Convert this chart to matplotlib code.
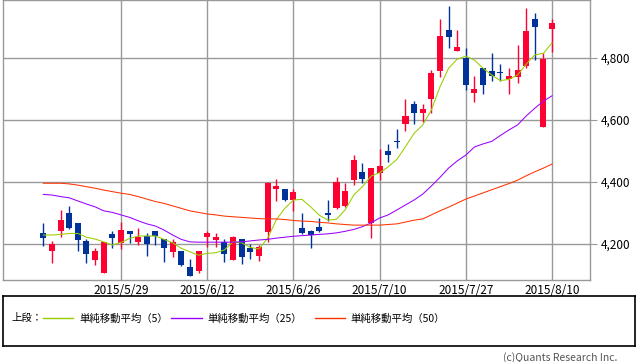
import numpy as np
import matplotlib
matplotlib.use("Agg")
import matplotlib.pyplot as plt

plt.rcParams['font.family'] = ['Noto Sans CJK JP', 'DejaVu Sans']

# daily candles (index 0 = 2015/5/18), red = up, blue = down
opens = [4236, 4178, 4242, 4301, 4267, 4210, 4148, 4107, 4232, 4202,
         4242, 4207, 4226, 4243, 4215, 4175, 4177, 4127, 4114, 4224,
         4213, 4207, 4148, 4216, 4188, 4161, 4240, 4376, 4377, 4342,
         4253, 4242, 4256, 4301, 4315, 4323, 4406, 4433, 4267, 4428,
         4500, 4532, 4586, 4651, 4624, 4668, 4758, 4890, 4824, 4799,
         4688, 4767, 4758, 4753, 4731, 4740, 4775, 4926, 4578, 4894]
highs = [4269, 4210, 4310, 4323, 4267, 4216, 4187, 4208, 4243, 4271,
         4242, 4251, 4234, 4243, 4216, 4215, 4178, 4151, 4178, 4243,
         4237, 4216, 4225, 4216, 4200, 4197, 4399, 4410, 4378, 4377,
         4299, 4245, 4283, 4342, 4417, 4396, 4487, 4462, 4445, 4506,
         4523, 4570, 4668, 4662, 4652, 4761, 4926, 4968, 4890, 4831,
         4742, 4768, 4817, 4781, 4767, 4842, 4962, 4946, 4815, 4926]
lows = [4193, 4140, 4223, 4250, 4178, 4140, 4132, 4105, 4188, 4185,
        4204, 4197, 4161, 4197, 4143, 4159, 4130, 4096, 4107, 4189,
        4189, 4143, 4147, 4134, 4151, 4146, 4207, 4340, 4340, 4307,
        4233, 4188, 4240, 4275, 4314, 4320, 4390, 4396, 4220, 4406,
        4465, 4509, 4566, 4586, 4594, 4624, 4740, 4833, 4823, 4697,
        4659, 4684, 4727, 4727, 4684, 4720, 4769, 4794, 4577, 4820]
closes = [4220, 4200, 4277, 4253, 4213, 4168, 4177, 4205, 4220, 4245,
          4233, 4224, 4199, 4227, 4188, 4207, 4132, 4097, 4177, 4235,
          4224, 4168, 4224, 4159, 4175, 4189, 4398, 4387, 4342, 4367,
          4234, 4229, 4243, 4295, 4401, 4372, 4471, 4409, 4444, 4452,
          4487, 4528, 4613, 4624, 4636, 4751, 4871, 4869, 4835, 4713,
          4700, 4713, 4742, 4751, 4742, 4761, 4887, 4901, 4797, 4912]

sma5 = [4229, 4229, 4231, 4234, 4234, 4222, 4216, 4207, 4197, 4205,
        4218, 4226, 4226, 4226, 4215, 4204, 4186, 4175, 4164, 4170,
        4172, 4181, 4207, 4204, 4189, 4184, 4218, 4277, 4315, 4342,
        4344, 4320, 4293, 4277, 4280, 4310, 4358, 4385, 4419, 4430,
        4449, 4473, 4514, 4557, 4584, 4632, 4707, 4767, 4796, 4806,
        4793, 4767, 4745, 4727, 4731, 4745, 4780, 4810, 4815, 4849]
sma25 = [4360, 4358, 4353, 4349, 4339, 4329, 4320, 4307, 4302, 4294,
         4286, 4275, 4265, 4258, 4245, 4229, 4215, 4207, 4206, 4206,
         4206, 4206, 4206, 4207, 4210, 4213, 4215, 4219, 4222, 4225,
         4227, 4229, 4231, 4233, 4236, 4241, 4247, 4256, 4268, 4284,
         4294, 4310, 4326, 4342, 4361, 4387, 4415, 4445, 4468, 4487,
         4513, 4523, 4531, 4550, 4568, 4584, 4613, 4638, 4661, 4678]
sma50 = [4396, 4396, 4396, 4394, 4390, 4385, 4380, 4374, 4369, 4364,
         4360, 4353, 4345, 4337, 4331, 4323, 4315, 4307, 4302, 4297,
         4294, 4290, 4288, 4286, 4284, 4282, 4281, 4281, 4279, 4276,
         4274, 4273, 4270, 4268, 4265, 4263, 4261, 4261, 4261, 4261,
         4263, 4265, 4271, 4277, 4281, 4294, 4307, 4319, 4332, 4345,
         4355, 4365, 4375, 4385, 4395, 4406, 4420, 4433, 4445, 4458]

date_pos = [9, 19, 29, 39, 49, 59]
date_labels = ['2015/5/29', '2015/6/12', '2015/6/26', '2015/7/10', '2015/7/27', '2015/8/10']
price_ticks = [4200, 4400, 4600, 4800]

UP = '#ff0033'
DOWN = '#003399'
GRID = '#999999'

fig = plt.figure(figsize=(6.38, 3.62), dpi=100)
ax = fig.add_axes([3/638, 82/362, 587/638, 280/362])

x = np.arange(len(closes))
o = np.array(opens)
c = np.array(closes)
colors = [UP if cc >= oo else DOWN for oo, cc in zip(o, c)]
body_low = np.minimum(o, c)
body_h = np.maximum(np.abs(c - o), 3)

ax.vlines(x, lows, highs, colors=colors, lw=1.0, zorder=2)
ax.bar(x, body_h, bottom=body_low, width=0.7, color=colors, linewidth=0, zorder=3)

ax.plot(x, sma5, color='#99cc00', lw=0.75, zorder=4)
ax.plot(x, sma25, color='#9900ff', lw=0.75, zorder=4)
ax.plot(x, sma50, color='#ff3300', lw=0.75, zorder=4)

ax.set_xlim(-4.68, 63.4)
ax.set_ylim(4084, 4987)
ax.set_xticks(date_pos)
ax.set_xticklabels(date_labels)
ax.set_yticks(price_ticks)
ax.set_yticklabels([f'{p:,}' for p in price_ticks])
ax.yaxis.tick_right()
ax.tick_params(axis='y', length=5, color=GRID, pad=3, labelsize=8.5)
ax.tick_params(axis='x', length=0, pad=3, labelsize=8.5)
ax.grid(color=GRID, lw=1, zorder=0)
ax.set_axisbelow(True)
for s in ax.spines.values():
    s.set_color(GRID)
    s.set_linewidth(1)

# legend box
lax = fig.add_axes([3/638, 16/362, 631.7/638, 50.3/362])
lax.set_xlim(0, 631.7)
lax.set_ylim(0, 50.3)
lax.set_xticks([])
lax.set_yticks([])
for s in lax.spines.values():
    s.set_color('black')
    s.set_linewidth(1.2)
ly = 27.7
lax.text(8.7, ly, '上段：', fontsize=7.5, va='center', ha='left')
lax.plot([40, 70], [ly, ly], color='#99cc00', lw=1)
lax.text(76, ly, '単純移動平均（5）', fontsize=7.5, va='center', ha='left')
lax.plot([168, 199], [ly, ly], color='#9900ff', lw=1)
lax.text(204, ly, '単純移動平均（25）', fontsize=7.5, va='center', ha='left')
lax.plot([312, 342], [ly, ly], color='#ff3300', lw=1)
lax.text(347, ly, '単純移動平均（50）', fontsize=7.5, va='center', ha='left')

fig.text(617/638, 1 - 357.7/362, '(c)Quants Research Inc.', ha='right', va='center',
         fontsize=7.5, color='#555555')

fig.savefig('out.png', dpi=100)
